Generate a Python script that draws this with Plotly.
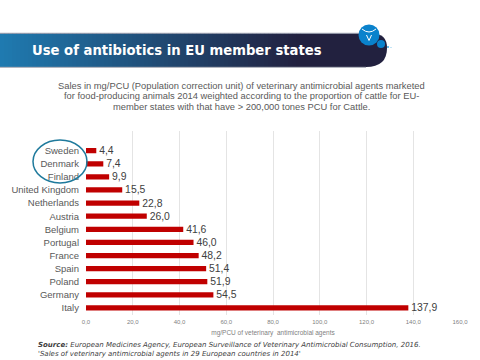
import plotly.graph_objects as go

countries = ["Sweden", "Denmark", "Finland", "United Kingdom", "Netherlands", "Austria", "Belgium",
             "Portugal", "France", "Spain", "Poland", "Germany", "Italy"]
values = [4.4, 7.4, 9.9, 15.5, 22.8, 26.0, 41.6, 46.0, 48.2, 51.4, 51.9, 54.5, 137.9]
x_ticks = [0, 20, 40, 60, 80, 100, 120, 140, 160]
subtitle_lines = ["Sales in mg/PCU (Population correction unit) of veterinary antimicrobial agents marketed",
                  "for food-producing animals 2014 weighted according to the proportion of cattle for EU-",
                  "member states with that have > 200,000 tones PCU for Cattle."]
W, H = 480, 360

def px(x):
    return x / W

def py(y):
    return 1 - y / H

fmt = lambda v: f"{v:.1f}".replace(".", ",")

fig = go.Figure(go.Bar(
    x=values, y=countries, orientation="h", marker=dict(color="#C00000", line=dict(width=0)),
    text=["\u00a0" + fmt(v) for v in values], textposition="outside", cliponaxis=False, constraintext="none",
    textfont=dict(family="Liberation Sans", size=10.4, color="#404040"), hoverinfo="skip",
))

shapes = []
# header gradient
c0, c1 = (31, 122, 176), (34, 33, 63)
x_end, n = 300, 75
for i in range(n):
    t = i / (n - 1)
    col = tuple(round(a + (b - a) * t) for a, b in zip(c0, c1))
    shapes.append(dict(type="rect", xref="paper", yref="paper", layer="below",
                       x0=px(x_end * i / n), x1=px(x_end * (i + 1) / n + 0.5), y0=py(67), y1=py(33.5),
                       fillcolor=f"rgb{col}", line_width=0))
# right end of header
P = lambda x, y: f"{px(x):.4f},{py(y):.4f}"
shapes.append(dict(type="path", xref="paper", yref="paper", layer="below", line_width=0, fillcolor="#22213F",
                   path=f"M{P(300,33.5)} L{P(372,33.5)} Q{P(387,33.5)} {P(387,48)} Q{P(387,67)} {P(366,67)} L{P(300,67)} Z"))
shapes.append(dict(type="line", xref="paper", yref="paper", x0=0, x1=px(366), y0=py(67.3), y1=py(67.3),
                   line=dict(color="#A0A4B0", width=1)))
shapes.append(dict(type="line", xref="paper", yref="paper", x0=0, x1=px(365), y0=py(33.3), y1=py(33.3),
                   line=dict(color="#8F94A5", width=1)))

def circle(cx, cy, r, color):
    return dict(type="circle", xref="paper", yref="paper", x0=px(cx - r), x1=px(cx + r), y0=py(cy + r), y1=py(cy - r),
                fillcolor=color, line_width=0)

shapes += [circle(369, 35, 10.5, "#0A82CC"), circle(381, 44, 4, "#0A82CC"),
           circle(388, 47, 1, "#3FA9DF"), circle(391, 47.5, 0.6, "#7CC6EC")]
shapes.append(dict(type="path", xref="paper", yref="paper", line=dict(color="white", width=1),
                   path=f"M{P(362,29)} Q{P(369,35)} {P(376,29)}"))
shapes.append(dict(type="path", xref="paper", yref="paper", line=dict(color="white", width=1),
                   path=f"M{P(366.5,35)} L{P(369,40.5)} L{P(371.5,35)}"))
# circled top countries
shapes.append(dict(type="circle", xref="paper", yref="paper", x0=px(33), x1=px(87), y0=py(183), y1=py(140),
                   line=dict(color="#1F7A9C", width=1.5), fillcolor="rgba(0,0,0,0)"))

annotations = [
    dict(x=px(30), y=py(50.5), text="<b>Use of antibiotics in EU member states</b>", xanchor="left", yanchor="middle",
         showarrow=False, xref="paper", yref="paper", font=dict(family="DejaVu Sans", size=13.2, color="white")),
    dict(x=px(36), y=py(349), yanchor="middle", xanchor="left", showarrow=False, xref="paper", yref="paper",
         align="left", font=dict(family="DejaVu Sans", size=7, color="#404040"),
         text="<b><i>Source:</i></b> <i>European Medicines Agency, European Surveillance of Veterinary Antimicrobial Consumption, 2016.</i><br>"
              "<i>'Sales of veterinary antimicrobial agents in 29 European countries in 2014'</i>"),
]
for line, y in zip(subtitle_lines, (85.7, 96.2, 107)):
    annotations.append(dict(x=px(241.5), y=py(y), yanchor="middle", xanchor="center", showarrow=False, xref="paper",
                            yref="paper", text=line, font=dict(family="Liberation Sans", size=9.35, color="#595959")))

fig.update_layout(
    width=W, height=H, autosize=False, margin=dict(l=0, r=0, t=0, b=0, autoexpand=False), showlegend=False,
    paper_bgcolor="white", plot_bgcolor="white", shapes=shapes, annotations=annotations, bargap=0.6,
    xaxis=dict(domain=[px(86), px(460)], range=[0, 160], tickvals=x_ticks, ticktext=[fmt(v) for v in x_ticks],
               automargin=False, gridcolor="#E4E4E4", gridwidth=1, zeroline=False, showline=False, ticks="",
               ticklabelstandoff=2, tickfont=dict(family="Liberation Sans", size=6, color="#7F7F7F"),
               title=dict(text="mg/PCU of veterinary  antimicrobial agents", standoff=6,
                          font=dict(family="Liberation Sans", size=6.5, color="#7F7F7F"))),
    yaxis=dict(domain=[py(314.5), py(131)], range=[12.5, -1.5], type="category", categoryorder="array",
               automargin=False, categoryarray=countries, showgrid=False, zeroline=False, showline=False, ticks="", ticklen=0,
               ticklabelstandoff=6, tickfont=dict(family="Liberation Sans", size=9.5, color="#595959")),
)
fig.write_html("out.html", config=dict(displayModeBar=False),
               post_script="document.body.style.margin='0';document.documentElement.style.overflow='hidden';")
